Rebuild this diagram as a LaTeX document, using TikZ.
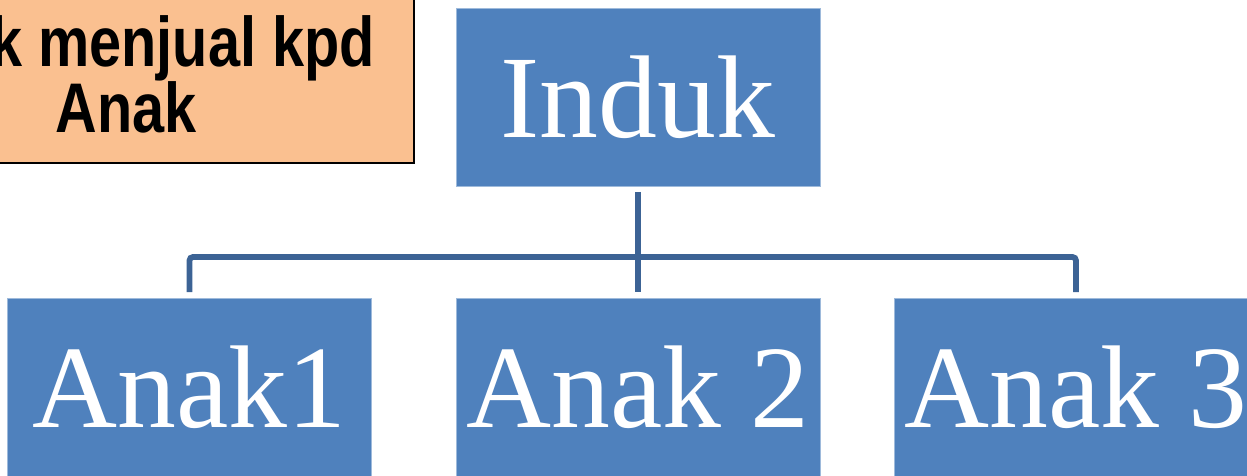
\documentclass[tikz,border=0pt]{standalone}
\usepackage{fontspec}
\setmainfont{Liberation Serif}
\newfontfamily\notefont[FakeStretch=0.82]{Liberation Sans}
\usetikzlibrary{calc, positioning}
\definecolor{boxblue}{RGB}{79,129,189}
\definecolor{lineblue}{RGB}{60,99,149}
\definecolor{peach}{RGB}{250,192,144}

\begin{document}
\begin{tikzpicture}[
  x=0.02cm, y=-0.02cm,
  unit/.style={draw=boxblue!55!white, line width=0.5pt, fill=boxblue, text=white, inner sep=0pt, outer sep=0pt,
    minimum width=7.28cm, minimum height=3.56cm, font=\fontsize{67}{70}\selectfont},
  conn/.style={draw=lineblue, line width=3.3pt},
  note/.style={draw=black, line width=1.2pt, fill=peach, inner sep=0pt, minimum width=9cm, minimum height=4cm},
  notetext/.style={inner sep=0pt, font=\notefont\bfseries\fontsize{40}{38}\selectfont}
]
\useasboundingbox (0,0) rectangle (1247,476);
\clip (0,0) rectangle (1247,476);
% note box, cut by the page edge
\node[note, anchor=south east] (catatan) at (415,164) {};
\node[notetext, anchor=base east] (baris1) at (375,67) {k menjual kpd};
\node[notetext, anchor=base] (baris2) at (126,133) {Anak};
% org chart
\node[unit] (induk) at (638,97)    {Induk};
\node[unit] (anak1) at (189.5,387) {Anak1};
\node[unit] (anak2) at (638,387)   {Anak 2};
\node[unit] (anak3) at (1076,387)  {Anak 3};
\coordinate (bus) at (638,257);
\draw[conn, shorten <=3.4pt] (induk.south) -- (induk.south |- bus);
\draw[conn, shorten >=3.4pt] (bus) -- (anak2.north);
\draw[conn, rounded corners=2pt, shorten <=3.4pt, shorten >=3.4pt]
  (anak1.north) -- (anak1.north |- bus) -- (anak3.north |- bus) -- (anak3.north);
\end{tikzpicture}
\end{document}
